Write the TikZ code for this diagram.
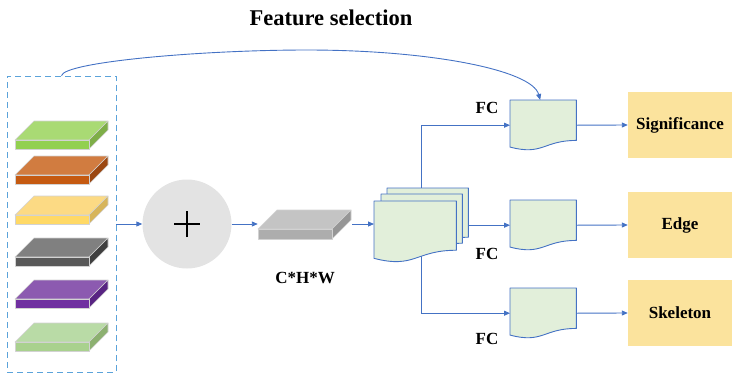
\documentclass[tikz,border=0pt]{standalone}
\usepackage{fontspec}
\setmainfont{Liberation Serif}
\usetikzlibrary{arrows.meta,calc}

\definecolor{linkblue}{HTML}{4472C4}
\definecolor{framecol}{HTML}{5BA3DA}
\definecolor{docgreen}{HTML}{E2EFDA}
\definecolor{outyellow}{HTML}{FBE39D}
\definecolor{sumgrey}{HTML}{E3E3E3}
\definecolor{slabedge}{HTML}{D2D2D2}

\tikzset{
  link/.style={draw=linkblue, line width=0.9pt, -{Triangle[length=6pt,width=5pt]}},
  docbox/.style={inner sep=0pt, draw=none, anchor=north west},
  docdraw/.style={draw=linkblue, fill=docgreen, line width=0.9pt, line join=round},
  outbox/.style={fill=outyellow, inner sep=0pt, minimum width=104pt, minimum height=66pt,
                 font=\fontsize{17}{19}\selectfont\bfseries},
  lbl/.style={font=\fontsize{17}{19}\selectfont\bfseries},
  slabface/.style={draw=slabedge, line width=0.6pt, line join=round}
}

% flat 3-D slab: front top-left corner (#1,#2), width #3, thickness #4, depth #5,
% face colours (hex) top #6, front #7, side #8
\newcommand\slab[8]{%
  \definecolor{slabtop}{HTML}{#6}%
  \definecolor{slabfront}{HTML}{#7}%
  \definecolor{slabside}{HTML}{#8}%
  \filldraw[slabface, fill=slabtop] (#1,#2) -- ++(#5,-#5) -- ++(#3,0) -- ++(-#5,#5) -- cycle;
  \filldraw[slabface, fill=slabside] (#1+#3,#2) -- ++(#5,-#5) -- ++(0,#4) -- ++(-#5,#5) -- cycle;
  \filldraw[slabface, fill=slabfront] (#1,#2) rectangle ++(#3,#4);
}

% flowchart "document" outline over a named box
\newcommand\docshape[1]{%
  \path[docdraw] (#1.north west) -- (#1.north east)
    -- ($(#1.north east)!0.802!(#1.south east)$)
    .. controls ($(#1.north)!0.802!(#1.south)$) and ($(#1.north)!1.107!(#1.south)$)
    .. ($(#1.north west)!0.934!(#1.south west)$) -- cycle;
}

\begin{document}
\begin{tikzpicture}[x=1pt, y=-1pt]
\useasboundingbox (0,0) rectangle (732,373);

% title
\node[font=\fontsize{22.5}{25}\selectfont\bfseries] (title) at (331,18) {Feature selection};

% stacked feature maps in a dashed frame
\node[draw=framecol, dash pattern=on 6pt off 4pt, line width=0.9pt, inner sep=0pt,
      minimum width=109pt, minimum height=296pt] (feat) at (61.5,224) {};
\slab{15}{140}{74}{9}{19}{A9DA74}{92D050}{7EAE48}
\slab{15}{175}{74}{9}{19}{D17C40}{C55A11}{9B4711}
\slab{15}{215}{74}{9}{19}{FCDA84}{FFD966}{D7B55B}
\slab{15}{257}{74}{9}{19}{808080}{595959}{3F3F3F}
\slab{15}{299}{74}{9}{19}{8C5AB0}{7030A0}{582482}
\slab{15}{342}{74}{9}{19}{B9DBA6}{A9D18E}{8CB070}

% element-wise sum
\node[circle, fill=sumgrey, minimum size=89pt, inner sep=0pt] (sum) at (187,224) {};
\draw[line width=2.8pt] ([xshift=-13pt]sum.center) -- ([xshift=13pt]sum.center);
\draw[line width=2.8pt] ([yshift=-13pt]sum.center) -- ([yshift=13pt]sum.center);

% fused C*H*W map
\node[inner sep=0pt, minimum width=94pt, minimum height=29pt] (chw) at (305,224) {};
\slab{258}{229}{74}{10}{19}{C4C4C4}{ADADAD}{969696}
\node[lbl] (chwlbl) at (305,278) {C*H*W};

% stacked documents and FC heads
\node[docbox, minimum width=81pt, minimum height=61pt] (back) at (387,188) {};
\node[docbox, minimum width=81pt, minimum height=61pt] (mid) at (381,194) {};
\node[docbox, minimum width=82pt, minimum height=61pt] (front) at (374,201) {};
\node[docbox, minimum width=66pt, minimum height=50pt] (fc1) at (510,100) {};
\node[docbox, minimum width=66pt, minimum height=50pt] (fc2) at (510,200) {};
\node[docbox, minimum width=66pt, minimum height=50pt] (fc3) at (510,288) {};

% outputs
\node[outbox] (sig) at (680,125) {Significance};
\node[outbox] (edge) at (680,225) {Edge};
\node[outbox] (skel) at (680,313) {Skeleton};

% connectors
\draw[link] (feat.east) -- (sum.west);
\draw[link] (sum.east) -- (chw.west);
\draw[link] (chw.east) -- (chw.east -| front.west);
\draw[link] ([xshift=6pt]front.center) |- (fc1.west);
\draw[link] ([xshift=6pt]front.center) |- (fc3.west);
\draw[link] (fc2.west -| back.east) -- (fc2.west);
\draw[link] (fc1.east) -- (sig.west);
\draw[link] (fc2.east) -- (edge.west);
\draw[link] (fc3.east) -- (skel.west);
\coordinate (arctop) at (307,50);
\draw[link] (feat.north) .. controls (65,62) and (200,50) .. (arctop)
            .. controls (430,50) and (532,70) .. ([xshift=-3pt]fc1.north);

% document outlines on top of the lines
\docshape{back}
\docshape{mid}
\docshape{front}
\docshape{fc1}
\docshape{fc2}
\docshape{fc3}

% FC labels
\node[lbl] (fclbl1) at (487,108) {FC};
\node[lbl] (fclbl2) at (487,254) {FC};
\node[lbl] (fclbl3) at (487,339) {FC};
\end{tikzpicture}
\end{document}
